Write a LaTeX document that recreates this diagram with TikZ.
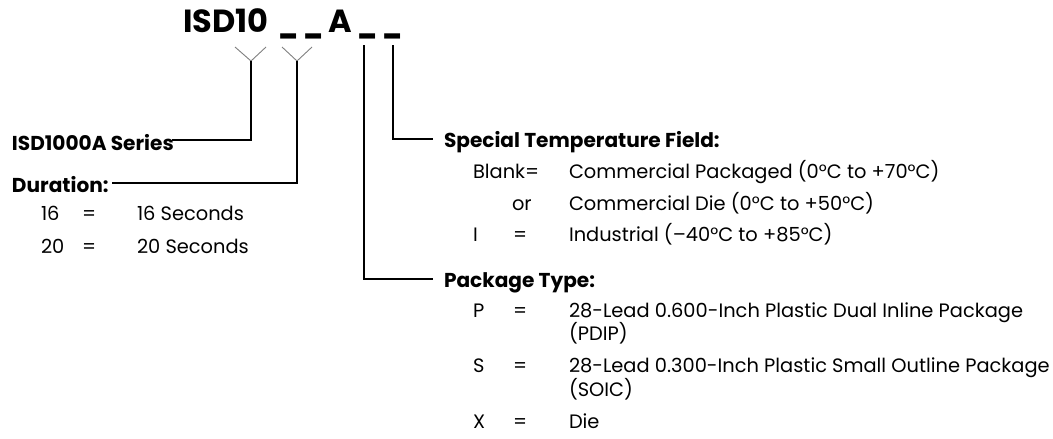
\documentclass[tikz,border=0pt]{standalone}
\usepackage{fontspec}
\setmainfont{Poppins}
\begin{document}
\begin{tikzpicture}[x=1pt,y=-1pt,
  txt/.style={anchor=base west,inner sep=0pt,outer sep=0pt},
  body/.style={txt,font=\fontsize{19.4}{23}\selectfont},
  head/.style={txt,font=\bfseries\fontsize{20.1}{24}\selectfont},
  ttl/.style={txt,font=\bfseries\fontsize{32}{36}\selectfont},
  lead/.style={line width=1.3pt,black},
  vee/.style={line width=0.9pt,gray}]
\useasboundingbox (0,0) rectangle (1053,439);
% title
\node[ttl] (t1) at (183,32) {ISD10};
\node[ttl] (u1) at (278,32) {\scalebox{0.8}[1]{\_}};
\node[ttl] (u2) at (303,32) {\scalebox{0.8}[1]{\_}};
\node[ttl] (ta) at (328,32) {A};
\node[ttl] (u3) at (357,32) {\scalebox{0.8}[1]{\_}};
\node[ttl] (u4) at (382,32) {\scalebox{0.8}[1]{\_}};
% connector points
\coordinate (v1l) at (235,47); \coordinate (v1) at (251,61); \coordinate (v1r) at (266,47);
\coordinate (v2l) at (282,47); \coordinate (v2) at (297,61); \coordinate (v2r) at (312,47);
\coordinate (p3) at (364,45); \coordinate (p4) at (393,45);
% left headings
\node[head] (series) at (12,150) {ISD1000A Series};
\node[head] (dur) at (12,192) {Duration:};
\node[body] (d1a) at (41,220) {16};
\node[body] (d1b) at (82,220) {=};
\node[body] (d1c) at (137,220) {16 Seconds};
\node[body] (d2a) at (41,253) {20};
\node[body] (d2b) at (82,253) {=};
\node[body] (d2c) at (137,253) {20 Seconds};
% right headings
\node[head] (temp) at (444,147) {Special Temperature Field:};
\node[body] (b1l) at (473,178) {Blank=};
\node[body] (b1d) at (569,178) {Commercial Packaged (0°C to +70°C)};
\node[body] (b2l) at (512,210) {or};
\node[body] (b2d) at (569,210) {Commercial Die (0°C to +50°C)};
\node[body] (b3l) at (473,241) {I};
\node[body] (b3e) at (513,241) {=};
\node[body] (b3d) at (569,241) {Industrial (–40°C to +85°C)};
\node[head] (pkg) at (444,287) {Package Type:};
\node[body] (k1l) at (473,317) {P};
\node[body] (k1e) at (513,317) {=};
\node[body] (k1d) at (569,317) {28-Lead 0.600-Inch Plastic Dual Inline Package};
\node[body] (k1w) at (569,340) {(PDIP)};
\node[body] (k2l) at (473,372) {S};
\node[body] (k2e) at (513,372) {=};
\node[body] (k2d) at (569,372) {28-Lead 0.300-Inch Plastic Small Outline Package};
\node[body] (k2w) at (569,396) {(SOIC)};
\node[body] (k3l) at (473,428) {X};
\node[body] (k3e) at (513,428) {=};
\node[body] (k3d) at (569,428) {Die};
% connectors
\draw[vee] (v1l) -- (v1) -- (v1r);
\draw[vee] (v2l) -- (v2) -- (v2r);
\draw[lead] (v1) |- ([xshift=-2pt,yshift=2pt]series.east);
\draw[lead] (v2) |- ([xshift=3pt,yshift=1pt]dur.east);
\draw[lead] (p4) |- ([xshift=-11pt,yshift=8pt]temp.base west);
\draw[lead] (p3) |- ([xshift=-11pt,yshift=8pt]pkg.base west);
\end{tikzpicture}
\end{document}
